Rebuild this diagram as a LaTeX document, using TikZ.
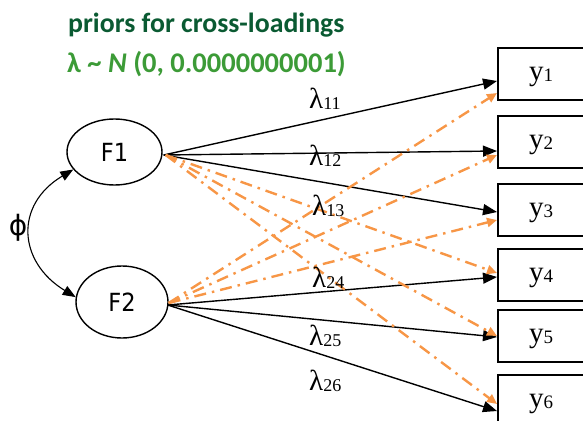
\documentclass[tikz,border=0pt]{standalone}
\usepackage{fontspec}
\setmainfont{Liberation Serif}
\newfontfamily\titlefont{Carlito}
\newfontfamily\sansfont{DejaVu Sans}
\usetikzlibrary{arrows.meta,shapes.geometric,calc}
\definecolor{orng}{RGB}{247,150,70}
\definecolor{dkgreen}{RGB}{10,90,50}
\definecolor{ltgreen}{RGB}{60,155,55}
\newcommand{\lam}[1]{{\fontsize{29}{29}\selectfont λ}{\fontsize{18}{18}\selectfont\raisebox{-1pt}{#1}}}
\newcommand{\yv}[1]{{\fontsize{29}{29}\selectfont y}{\fontsize{19}{19}\selectfont\raisebox{-1pt}{#1}}}
\begin{document}
\begin{tikzpicture}[x=1pt,y=-1pt,
  latent/.style={draw,line width=1.4pt,ellipse,inner sep=0pt,font=\sansfont\fontsize{25}{25}\selectfont},
  obs/.style={draw,line width=2pt,rectangle,anchor=west,minimum width=103pt,minimum height=52pt,inner sep=0pt},
  obstext/.style={inner sep=0pt},
  load/.style={line width=1.4pt,-{Triangle[length=14pt,width=11pt]}},
  cross/.style={orng,line width=2.4pt,dash pattern=on 12pt off 6pt on 2.5pt off 6pt,-{Triangle[length=10pt,width=9pt]}},
  lab/.style={anchor=base west,inner sep=0pt}]
\useasboundingbox (0,0) rectangle (583,420);
\clip (0,0) rectangle (583,420);
% title
\node[anchor=base west,inner sep=0pt,text=dkgreen] (t1) at (68,33) {\titlefont\bfseries\fontsize{27.8}{28}\selectfont priors for cross-loadings};
\node[anchor=base west,inner sep=0pt,text=ltgreen] (t2) at (67,73) {\titlefont\bfseries\fontsize{28.5}{28}\selectfont λ \textasciitilde{} \textit{N} (0, 0.0000000001)};
% factors
\node[latent,minimum width=95pt,minimum height=66pt] (F1) at (114.5,152) {\scalebox{0.9}[1]{F1}};
\node[latent,minimum width=92pt,minimum height=72pt] (F2) at (122,302) {\scalebox{0.9}[1]{F2}};
% indicators
\node[obs] (y1) at (497,74) {};
\node[obs] (y2) at (497,142) {};
\node[obs] (y3) at (497,209.5) {};
\node[obs] (y4) at (497,274.5) {};
\node[obs] (y5) at (497,335.5) {};
\node[obs] (y6) at (497,401) {};
\node[obstext] (y1t) at (541,77) {\yv{1}};
\node[obstext] (y2t) at (541,145) {\yv{2}};
\node[obstext] (y3t) at (541,212.5) {\yv{3}};
\node[obstext] (y4t) at (541,277.5) {\yv{4}};
\node[obstext] (y5t) at (541,338.5) {\yv{5}};
\node[obstext] (y6t) at (541,404) {\yv{6}};
% origins
\coordinate (F1o) at ($(F1.east)+(1,3)$);
\coordinate (F2o) at ($(F2.east)+(-1,3)$);
\coordinate (F1c) at ($(F1.east)+(3,3)$);
\coordinate (F2c) at ($(F2.east)+(0,1)$);
% loadings
\draw[load] (F1o) -- ($(y1.west)+(0,7)$);
\draw[load] (F1o) -- ($(y2.west)+(0,9)$);
\draw[load] (F1o) -- ($(y3.west)+(0,2.5)$);
\draw[load] (F2o) -- ($(y4.west)+(0,2.5)$);
\draw[load] (F2o) -- ($(y5.west)+(0,1.5)$);
\draw[load] (F2o) -- ($(y6.west)+(0,10)$);
% cross loadings
\draw[cross] (F1c) -- ($(y4.west)+(0,-1.5)$);
\draw[cross] (F1c) -- ($(y5.west)+(0,0.5)$);
\draw[cross] (F1c) -- ($(y6.west)+(0,3)$);
\draw[cross] (F2c) -- ($(y1.west)+(0,19)$);
\draw[cross] (F2c) -- ($(y2.west)+(0,13)$);
\draw[cross] (F2c) -- ($(y3.west)+(0,10.5)$);
% covariance
\draw[line width=1.1pt,{Triangle[length=13pt,width=10pt]}-{Triangle[length=13pt,width=10pt]}] (F2.174) .. controls (18,262) and (14,205) .. (F1.203);
\node[inner sep=0pt,font=\sansfont\fontsize{28}{28}\selectfont] (phi) at (18,228) {ϕ};
% labels
\node[lab] (l11) at (309,108) {\lam{11}};
\node[lab] (l12) at (309,165) {\lam{12}};
\node[lab] (l13) at (312,215) {\lam{13}};
\node[lab] (l24) at (312,287) {\lam{24}};
\node[lab] (l25) at (309,345) {\lam{25}};
\node[lab] (l26) at (309,390) {\lam{26}};
\end{tikzpicture}
\end{document}
